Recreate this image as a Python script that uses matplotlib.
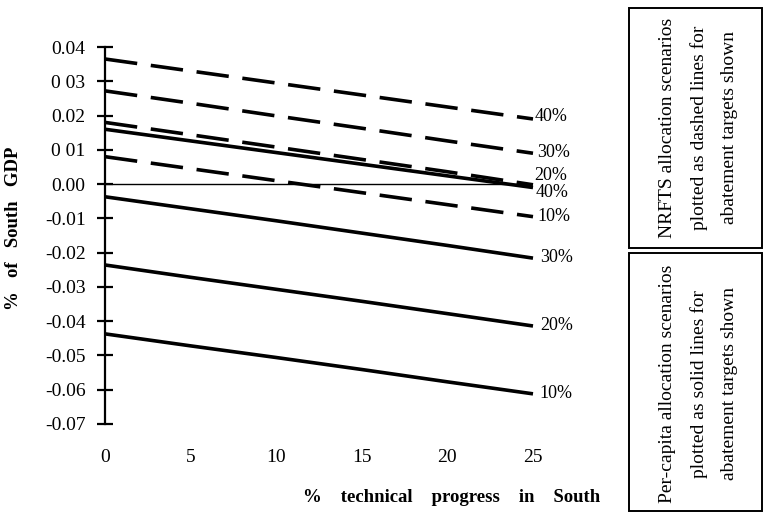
import matplotlib
matplotlib.use('Agg')
import matplotlib.pyplot as plt
from matplotlib.patches import Rectangle

plt.rcParams['font.family'] = ['Liberation Serif', 'DejaVu Serif']

# % technical progress in South
progress = [0, 5, 10, 15, 20, 25]

# per-capita allocation (solid lines), % of South GDP
percap_10 = [-0.0437, -0.0472, -0.0506, -0.0541, -0.0577, -0.0612]
percap_20 = [-0.0236, -0.0272, -0.0307, -0.0342, -0.0378, -0.0414]
percap_30 = [-0.0037, -0.0072, -0.0107, -0.0143, -0.0179, -0.0216]
percap_40 = [0.0160, 0.0126, 0.0092, 0.0058, 0.0024, -0.0010]

# NRFTS allocation (dashed lines)
nrfts_10 = [0.0080, 0.0045, 0.0010, -0.0025, -0.0060, -0.0095]
nrfts_20 = [0.0180, 0.0144, 0.0108, 0.0072, 0.0036, -0.0002]
nrfts_30 = [0.0272, 0.0236, 0.0199, 0.0163, 0.0126, 0.0090]
nrfts_40 = [0.0365, 0.0330, 0.0295, 0.0260, 0.0225, 0.0190]

yticks = [0.04, 0.03, 0.02, 0.01, 0.00, -0.01, -0.02, -0.03, -0.04, -0.05, -0.06, -0.07]
ytick_labels = ['0.04', '0 03', '0.02', '0 01', '0.00', '-0.01', '-0.02', '-0.03',
                '-0.04', '-0.05', '-0.06', '-0.07']

W, H = 763, 513
fig = plt.figure(figsize=(W / 100, H / 100), dpi=100)
ax = fig.add_axes([105 / W, 1 - 424 / H, (533 - 105) / W, (424 - 47) / H])

ax.set_xlim(0, 25)
ax.set_ylim(-0.07, 0.04)

ax.axhline(0, color='black', lw=1.0)

solid = dict(color='black', lw=2.6, solid_capstyle='butt', clip_on=False)
dashed = dict(color='black', lw=2.6, dashes=(9, 3.8), dash_capstyle='butt', clip_on=False)

for ys in (percap_10, percap_20, percap_30, percap_40):
    ax.plot(progress, ys, **solid)
for ys in (nrfts_10, nrfts_20, nrfts_30, nrfts_40):
    ax.plot(progress, ys, **dashed)

# end-of-line labels
lab = dict(fontsize=13, va='center', ha='left', clip_on=False)
ax.text(25.1, nrfts_40[-1] + 0.0008, '40%', **lab)
ax.text(25.25, nrfts_30[-1] + 0.0001, '30%', **lab)
ax.text(25.05, 0.0025, '20%', **lab)
ax.text(25.15, -0.0025, '40%', **lab)
ax.text(25.25, nrfts_10[-1] - 0.0001, '10%', **lab)
ax.text(25.4, percap_30[-1] + 0.0003, '30%', **lab)
ax.text(25.4, percap_20[-1], '20%', **lab)
ax.text(25.4, percap_10[-1], '10%', **lab)

for s in ('top', 'right', 'bottom'):
    ax.spines[s].set_visible(False)
ax.spines['left'].set_linewidth(1.6)

ax.set_yticks(yticks)
ax.set_yticklabels(ytick_labels)
ax.set_xticks(progress)
ax.set_xticklabels([str(p) for p in progress])
ax.tick_params(axis='y', direction='inout', length=12, width=1.6, labelsize=14, pad=8)
ax.tick_params(axis='x', length=0, labelsize=14, pad=18)

# axis titles
fig.text(600 / W, 1 - 497 / H, '%    technical    progress    in    South', fontsize=13.5,
         fontweight='bold', ha='right', va='center')
fig.text(14 / W, 1 - 228 / H, '%   of   South   GDP', fontsize=13.5, fontweight='bold',
         rotation=90, ha='center', va='center')

# explanatory boxes on the right
fig.patches.append(Rectangle((629 / W, 1 - 248 / H), 133 / W, 240 / H, transform=fig.transFigure,
                             fill=False, ec='black', lw=1.4))
fig.patches.append(Rectangle((629 / W, 1 - 511 / H), 133 / W, 258 / H, transform=fig.transFigure,
                             fill=False, ec='black', lw=1.4))

box_lines = [
    (128, ['NRFTS allocation scenarios', 'plotted as dashed lines for', 'abatement targets shown']),
    (384, ['Per-capita allocation scenarios', 'plotted as solid lines for', 'abatement targets shown']),
]
for yc, lines in box_lines:
    for xc, txt in zip((667, 699, 730), lines):
        fig.text(xc / W, 1 - yc / H, txt, rotation=90, fontsize=14,
                 ha='center', va='center')

fig.savefig('out.png', dpi=100)
